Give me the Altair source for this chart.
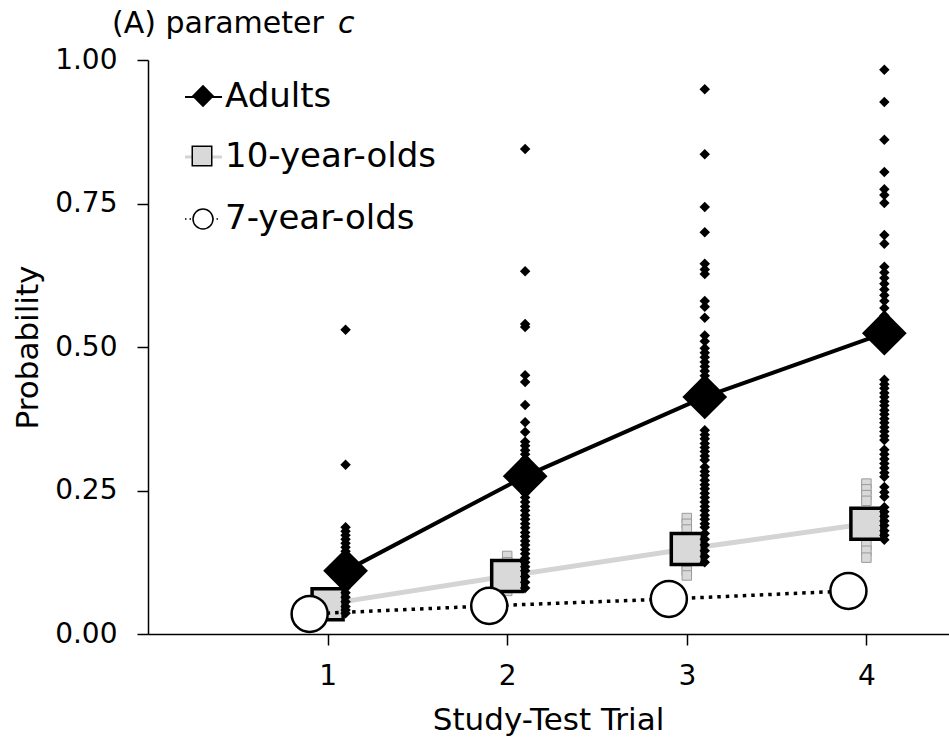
import altair as alt
import pandas as pd

# ---------------- data ----------------
trials = [1, 2, 3, 4]
groups = ["Adults", "10-year-olds", "7-year-olds"]

adult_mean = [0.110, 0.275, 0.413, 0.524]
ten_mean = [0.052, 0.101, 0.148, 0.192]
seven_mean = [0.035, 0.049, 0.061, 0.075]

adult_t1 = [0.530, 0.295, 0.186, 0.179, 0.172, 0.165, 0.158, 0.151, 0.144, 0.136,
            0.128, 0.120, 0.112, 0.104, 0.096, 0.088, 0.080, 0.072, 0.064, 0.056,
            0.048, 0.042, 0.036]
adult_t2 = [0.845, 0.632, 0.540, 0.535, 0.451, 0.439, 0.399, 0.369, 0.352, 0.335,
            0.328, 0.320, 0.313, 0.305, 0.298, 0.290, 0.283, 0.276, 0.270, 0.262,
            0.255, 0.245, 0.238, 0.230, 0.222, 0.215, 0.207, 0.200, 0.192, 0.185,
            0.177, 0.170, 0.162, 0.155, 0.147, 0.140, 0.132, 0.125, 0.117, 0.110,
            0.100, 0.090, 0.080]
adult_t3 = [0.949, 0.836, 0.744, 0.700, 0.645, 0.635, 0.627, 0.580, 0.570, 0.551,
            0.520, 0.510, 0.498, 0.490, 0.482, 0.474, 0.466, 0.458, 0.450, 0.440,
            0.430, 0.420, 0.410, 0.400, 0.390, 0.355, 0.347, 0.340, 0.332, 0.325,
            0.318, 0.310, 0.303, 0.291, 0.283, 0.276, 0.268, 0.260, 0.253, 0.245,
            0.238, 0.230, 0.222, 0.215, 0.207, 0.200, 0.192, 0.186, 0.175, 0.165,
            0.155, 0.145, 0.135, 0.125]
adult_t4 = [0.983, 0.927, 0.861, 0.805, 0.775, 0.765, 0.751, 0.695, 0.680, 0.640,
            0.630, 0.620, 0.610, 0.600, 0.590, 0.580, 0.568, 0.555, 0.545, 0.535,
            0.443, 0.435, 0.428, 0.420, 0.413, 0.405, 0.398, 0.390, 0.383, 0.375,
            0.368, 0.360, 0.353, 0.345, 0.338, 0.321, 0.313, 0.305, 0.297, 0.289,
            0.281, 0.274, 0.256, 0.247, 0.239, 0.221, 0.213, 0.205, 0.197, 0.189,
            0.180, 0.172, 0.164]

ten_t1 = [0.060, 0.050, 0.045]
ten_t2 = [0.136, 0.125, 0.110, 0.095, 0.085, 0.075]
ten_t3 = [0.202, 0.192, 0.182, 0.160, 0.140, 0.120, 0.110, 0.102]
ten_t4 = [0.262, 0.252, 0.242, 0.232, 0.210, 0.190, 0.170, 0.155, 0.145, 0.133]

seven_t1 = [0.040, 0.035, 0.030]
seven_t2 = [0.055, 0.049, 0.044]
seven_t3 = [0.068, 0.061, 0.055]
seven_t4 = [0.082, 0.075, 0.068]

y_ticks = [0.0, 0.25, 0.5, 0.75, 1.0]
x_ticks = [1, 2, 3, 4]
x_title = "Study-Test Trial"
y_title = "Probability"
panel_title = "(A) parameter "
panel_title_italic = "c"

# horizontal dodge of each group around the trial number
dodge = {"Adults": 0.1, "10-year-olds": 0.0, "7-year-olds": -0.1}

means = {"Adults": adult_mean, "10-year-olds": ten_mean, "7-year-olds": seven_mean}
indiv = {
    "Adults": [adult_t1, adult_t2, adult_t3, adult_t4],
    "10-year-olds": [ten_t1, ten_t2, ten_t3, ten_t4],
    "7-year-olds": [seven_t1, seven_t2, seven_t3, seven_t4],
}

mean_rows = []
for g in groups:
    for t, v in zip(trials, means[g]):
        mean_rows.append({"group": g, "trial": t, "pos": t + dodge[g], "value": v})
mean_df = pd.DataFrame(mean_rows)

ind_rows = []
for g in groups:
    for t, vals in zip(trials, indiv[g]):
        for v in vals:
            ind_rows.append({"group": g, "trial": t, "pos": t + dodge[g], "value": v})
ind_df = pd.DataFrame(ind_rows)

FONT = "DejaVu Sans"

x_enc = alt.X(
    "pos:Q",
    scale=alt.Scale(domain=[0, 4.46], nice=False, zero=False),
    axis=alt.Axis(
        values=x_ticks, format="d", title=x_title, grid=False,
        domainColor="black", domainWidth=1.5, tickColor="black", tickWidth=1.5,
        tickSize=11, labelFont=FONT, labelFontSize=28, labelColor="black",
        labelPadding=17, titleFont=FONT, titleFontSize=31, titleFontWeight="normal",
        titleColor="black", titleX=400, titleY=86, titleAlign="center",
        titleBaseline="middle",
    ),
)
y_enc = alt.Y(
    "value:Q",
    scale=alt.Scale(domain=[0, 1], nice=False),
    axis=alt.Axis(
        values=y_ticks, format=".2f", title=y_title, grid=False,
        domainColor="black", domainWidth=1.5, tickColor="black", tickWidth=1.5,
        tickSize=11, labelFont=FONT, labelFontSize=28, labelColor="black",
        labelPadding=20, titleFont=FONT, titleFontSize=31, titleFontWeight="normal",
        titleColor="black", titleX=-120, titleY=287, titleAngle=270,
        titleAlign="center", titleBaseline="middle",
    ),
)

ind_ten = alt.Chart(ind_df[ind_df.group == "10-year-olds"]).mark_point(
    shape="square", filled=True, fill="#d9d9d9", stroke="#9a9a9a", strokeWidth=1,
    size=90, opacity=1
).encode(x=x_enc, y=y_enc)

ind_seven = alt.Chart(ind_df[ind_df.group == "7-year-olds"]).mark_point(
    shape="circle", filled=True, fill="white", stroke="black", strokeWidth=1,
    size=80, opacity=1
).encode(x=x_enc, y=y_enc)

line_ten = alt.Chart(mean_df[mean_df.group == "10-year-olds"]).mark_line(
    color="#d4d4d4", strokeWidth=5
).encode(x=x_enc, y=y_enc)
pts_ten = alt.Chart(mean_df[mean_df.group == "10-year-olds"]).mark_point(
    shape="square", filled=True, fill="#d9d9d9", stroke="black", strokeWidth=3.5,
    size=961, opacity=1
).encode(x=x_enc, y=y_enc)

line_seven = alt.Chart(mean_df[mean_df.group == "7-year-olds"]).mark_line(
    color="black", strokeWidth=3.5, strokeDash=[3.5, 5]
).encode(x=x_enc, y=y_enc)
pts_seven = alt.Chart(mean_df[mean_df.group == "7-year-olds"]).mark_point(
    shape="circle", filled=True, fill="white", stroke="black", strokeWidth=2.5,
    size=1300, opacity=1
).encode(x=x_enc, y=y_enc)

ind_adult = alt.Chart(ind_df[ind_df.group == "Adults"]).mark_point(
    shape="diamond", filled=True, color="black", size=110, opacity=1
).encode(x=x_enc, y=y_enc)

line_adult = alt.Chart(mean_df[mean_df.group == "Adults"]).mark_line(
    color="black", strokeWidth=4
).encode(x=x_enc, y=y_enc)
pts_adult = alt.Chart(mean_df[mean_df.group == "Adults"]).mark_point(
    shape="diamond", filled=True, color="black", size=2000, opacity=1
).encode(x=x_enc, y=y_enc)

# ---------------- legend (drawn manually, top-left inside plot) -------------
OX, OY = 148, 60  # plot origin in page pixels
leg_rows = [
    ("Adults", 107),
    ("10-year-olds", 167),
    ("7-year-olds", 229),
]
legend_layers = []
# Adults
legend_layers.append(alt.Chart().mark_rule(color="black", strokeWidth=2).encode(
    x=alt.value(185 - OX), x2=alt.value(222 - OX), y=alt.value(97 - OY)))
legend_layers.append(alt.Chart().mark_point(shape="diamond", filled=True, color="black",
                                            size=500, opacity=1).encode(
    x=alt.value(203 - OX), y=alt.value(96 - OY)))
# 10-year-olds
legend_layers.append(alt.Chart().mark_rule(color="#d4d4d4", strokeWidth=3).encode(
    x=alt.value(185 - OX), x2=alt.value(222 - OX), y=alt.value(157 - OY)))
legend_layers.append(alt.Chart().mark_point(shape="square", filled=True, fill="#d9d9d9",
                                            stroke="black", strokeWidth=1.5, size=380,
                                            opacity=1).encode(
    x=alt.value(202 - OX), y=alt.value(156 - OY)))
# 7-year-olds
legend_layers.append(alt.Chart().mark_rule(color="black", strokeWidth=1.5,
                                           strokeDash=[1.5, 3]).encode(
    x=alt.value(185 - OX), x2=alt.value(221 - OX), y=alt.value(219 - OY)))
legend_layers.append(alt.Chart().mark_point(shape="circle", filled=True, fill="white",
                                            stroke="black", strokeWidth=1.5, size=400,
                                            opacity=1).encode(
    x=alt.value(203 - OX), y=alt.value(219 - OY)))
for name, base in leg_rows:
    legend_layers.append(alt.Chart().mark_text(
        text=name, font=FONT, fontSize=34, color="black", align="left",
        baseline="alphabetic").encode(x=alt.value(225 - OX), y=alt.value(base - OY)))

# ---------------- panel title ----------------
title_a = alt.Chart().mark_text(
    text=panel_title, font=FONT, fontSize=30, color="black", align="left",
    baseline="alphabetic").encode(x=alt.value(112 - OX), y=alt.value(33 - OY))
title_c = alt.Chart().mark_text(
    text=panel_title_italic, font=FONT, fontSize=30, fontStyle="italic", color="black",
    align="left", baseline="alphabetic").encode(x=alt.value(338 - OX), y=alt.value(33 - OY))

chart = alt.layer(
    ind_ten, ind_seven, line_ten, pts_ten, line_seven, pts_seven,
    ind_adult, line_adult, pts_adult,
    *legend_layers, title_a, title_c,
).properties(
    width=801, height=574,
    autosize=alt.AutoSizeParams(type="none"),
    padding={"left": 148, "top": 60, "right": 0, "bottom": 112},
    background="white",
).configure_view(stroke=None)

chart.save("out.html", embed_options={"renderer": "svg", "actions": False})
